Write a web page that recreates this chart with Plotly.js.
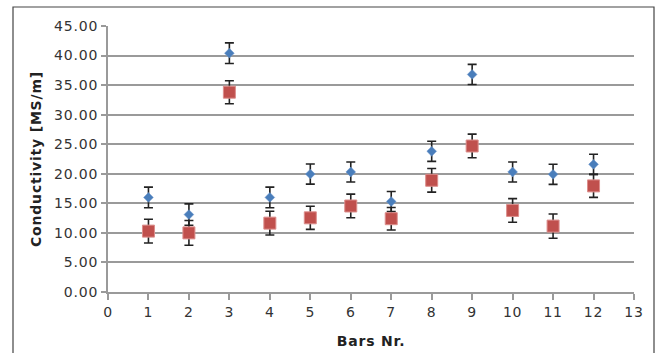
<!DOCTYPE html>
<html>
<head>
<meta charset="utf-8">
<script src="https://cdn.plot.ly/plotly-3.0.1.min.js"></script>
<style>
html,body{margin:0;padding:0;background:#fff;}
#chart{width:656px;height:353px;}
#chart text{letter-spacing:0.8px;}
</style>
</head>
<body>
<div id="chart"></div>
<script>
const bars = [1,2,3,4,5,6,7,8,9,10,11,12];
const blueValues = [16.0,13.1,40.4,16.0,19.95,20.3,15.3,23.8,36.8,20.3,19.9,21.6];
const blueErrors = [1.75,1.8,1.75,1.75,1.7,1.7,1.7,1.7,1.7,1.7,1.7,1.7];
const redValues = [10.3,10.0,33.8,11.65,12.55,14.55,12.4,18.9,24.7,13.8,11.15,17.95];
const redErrors = [2.0,2.1,1.95,2.0,1.95,2.0,1.9,2.0,2.0,2.0,2.05,1.95];
const xTickVals = [0,1,2,3,4,5,6,7,8,9,10,11,12,13];
const yTickVals = [0,5,10,15,20,25,30,35,40,45];
const yTickText = yTickVals.map(v => v.toFixed(2));

const errStyle = {type:'data', visible:true, color:'#222', thickness:1.6, width:4.5};

const traces = [
  {
    x: bars, y: blueValues, type:'scatter', mode:'markers', name:'A',
    marker:{symbol:'diamond', size:7.5, color:'#4a7ebb', line:{width:0.5, color:'#6f97cc'}},
    error_y: Object.assign({array: blueErrors}, errStyle)
  },
  {
    x: bars, y: redValues, type:'scatter', mode:'markers', name:'B',
    marker:{symbol:'square', size:12, color:'#c0504d', line:{width:1, color:'#dc8e8c'}},
    error_y: Object.assign({array: redErrors}, errStyle)
  }
];

const layout = {
  width:656, height:353,
  margin:{l:108, r:22, t:26, b:61},
  paper_bgcolor:'#fff', plot_bgcolor:'#fff',
  showlegend:false,
  font:{family:'"DejaVu Sans", sans-serif', size:14, color:'#333'},
  xaxis:{
    range:[0,13], tickvals:xTickVals, ticktext:xTickVals.map(String),
    showgrid:false, zeroline:false,
    showline:true, linecolor:'#9a9a9a', linewidth:2,
    ticks:'outside', ticklen:6, tickwidth:2, tickcolor:'#9a9a9a',
    tickfont:{size:14, color:'#333'},
    title:{text:'<b>Bars Nr.</b>', font:{size:14, color:'#222'}, standoff:17}
  },
  yaxis:{
    range:[0,45], tickvals:yTickVals, ticktext:yTickText,
    showgrid:true, gridcolor:'#9a9a9a', gridwidth:2, zeroline:false,
    showline:true, linecolor:'#9a9a9a', linewidth:2,
    ticks:'outside', ticklen:5, tickwidth:2, tickcolor:'#9a9a9a',
    tickfont:{size:14, color:'#333'},
    title:{text:'<b>Conductivity [MS/m]</b>', font:{size:14, color:'#222'}, standoff:13}
  },
  shapes:[
    {type:'rect', xref:'paper', yref:'paper', x0:(13-108)/526, x1:(654-108)/526,
     y0:(292-400)/266, y1:(292-7)/266, line:{color:'#444', width:1.2}, fillcolor:'rgba(0,0,0,0)', layer:'below'}
  ]
};

Plotly.newPlot('chart', traces, layout, {displayModeBar:false, staticPlot:true});
</script>
</body>
</html>
